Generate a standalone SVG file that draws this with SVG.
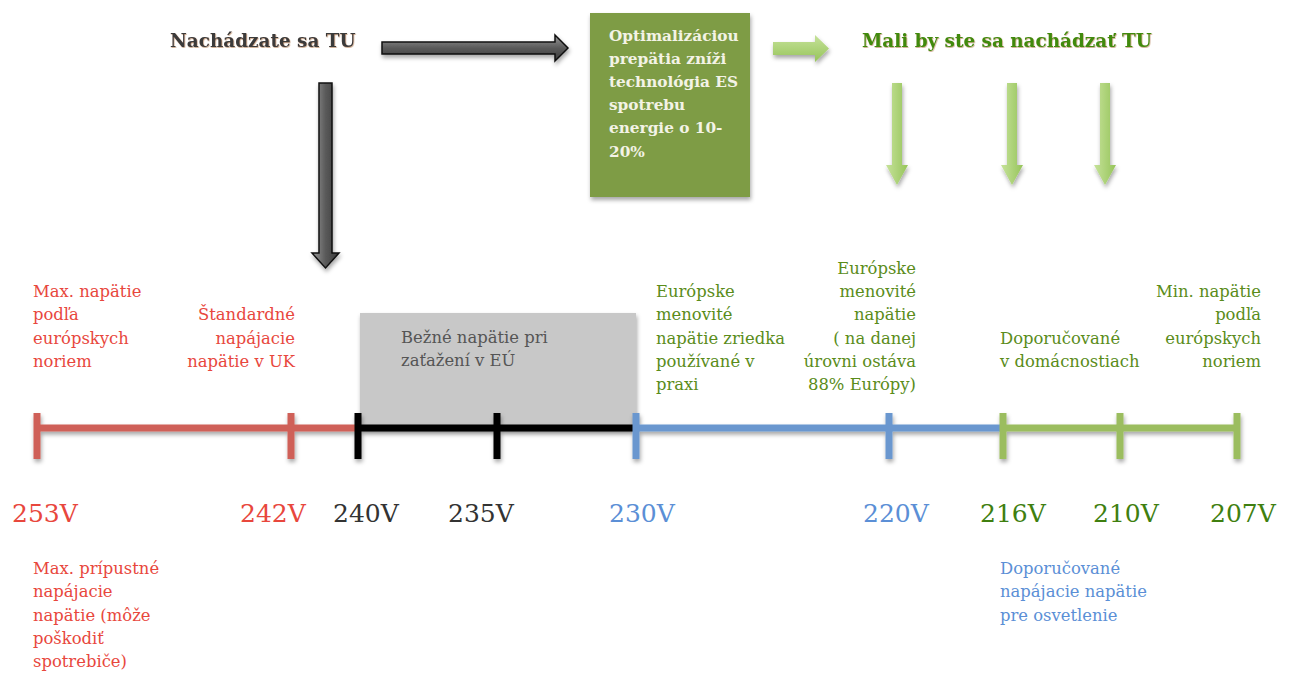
<svg xmlns="http://www.w3.org/2000/svg" width="1290" height="673" viewBox="0 0 1290 673">
<defs>
<filter id="sh" x="-20%" y="-20%" width="140%" height="160%">
<feDropShadow dx="1" dy="3" stdDeviation="2" flood-color="#000" flood-opacity="0.35"/>
</filter>
<filter id="tsh" x="-5%" y="-20%" width="110%" height="140%">
<feDropShadow dx="0.6" dy="0.8" stdDeviation="0.5" flood-color="#a0602a" flood-opacity="0.6"/>
</filter>
<linearGradient id="gh" x1="0" y1="0" x2="0" y2="1">
<stop offset="0" stop-color="#9a9a9a"/><stop offset="0.5" stop-color="#5a5a5a"/><stop offset="1" stop-color="#3a3a3a"/>
</linearGradient>
<linearGradient id="gv" x1="0" y1="0" x2="1" y2="0">
<stop offset="0" stop-color="#9a9a9a"/><stop offset="0.5" stop-color="#5a5a5a"/><stop offset="1" stop-color="#3a3a3a"/>
</linearGradient>
<linearGradient id="ggh" x1="0" y1="0" x2="0" y2="1">
<stop offset="0" stop-color="#c6e29a"/><stop offset="1" stop-color="#96c45a"/>
</linearGradient>
<linearGradient id="ggv" x1="0" y1="0" x2="1" y2="0">
<stop offset="0" stop-color="#c6e29a"/><stop offset="1" stop-color="#96c45a"/>
</linearGradient>
</defs>
<style>
text{font-family:"DejaVu Serif","Liberation Serif",serif}
.lbl{font-size:16.4px}
.red{fill:#e8473d}
.grn{fill:#5a8c1a}
.blu{fill:#5b8fd6}
.drk{fill:#555}
.volt{font-size:25px}
.title{font-size:18.4px;font-weight:bold}
.box{font-size:15.3px;font-weight:bold;fill:#f3f3e6}
.ln{stroke-width:7;fill:none}
</style>

<g id="title-here">
<text class="title" x="170" y="47" fill="#3a3a3a" filter="url(#tsh)">Nachádzate sa TU</text>
</g>
<g id="title-should">
<text class="title" x="862" y="47" fill="#3f8a10" filter="url(#tsh)">Mali by ste sa nachádzať TU</text>
</g>

<g id="opt-box">
<rect x="590" y="13" width="160" height="184" fill="#7e9c45" filter="url(#sh)"/>
<text class="box" x="609" y="41">Optimalizáciou</text>
<text class="box" x="609" y="64">prepätia zníži</text>
<text class="box" x="609" y="87">technológia ES</text>
<text class="box" x="609" y="110">spotrebu</text>
<text class="box" x="609" y="133">energie o 10-</text>
<text class="box" x="609" y="157">20%</text>
</g>

<g id="band-box">
<rect x="360" y="313" width="276" height="115" fill="#c8c8c8" filter="url(#sh)"/>
<text class="lbl drk" x="401" y="343">Bežné napätie pri</text>
<text class="lbl drk" x="401" y="366">zaťažení v EÚ</text>
</g>

<g id="connectors">
<path d="M382,42 H555 V35 L568,48 L555,61 V54 H382 Z" fill="url(#gh)" stroke="#111" stroke-width="1.5" filter="url(#sh)"/>
<path d="M319,83 H332 V253 H339 L325.5,268 L312,253 H319 Z" fill="url(#gv)" stroke="#111" stroke-width="1.5" filter="url(#sh)"/>
<path d="M773,42 H815 V35 L829,48.5 L815,62 V55 H773 Z" fill="url(#ggh)" filter="url(#sh)"/>
<path d="M892,83 H902 V165 H908 L897,185 L886,165 H892 Z" fill="url(#ggv)" filter="url(#sh)"/>
<path d="M1007,83 H1017 V165 H1023 L1012,185 L1001,165 H1007 Z" fill="url(#ggv)" filter="url(#sh)"/>
<path d="M1100,83 H1110 V165 H1116 L1105,185 L1094,165 H1100 Z" fill="url(#ggv)" filter="url(#sh)"/>
</g>

<g id="scale" filter="url(#sh)">
<path class="ln" d="M37,428 H358 M37,413 V459 M291,413 V459" stroke="#cf6159"/>
<path class="ln" d="M358,428 H636 M358,413 V459 M497,413 V459" stroke="#000"/>
<path class="ln" d="M636,428 H1003 M636,413 V459 M889,413 V459" stroke="#6a97cf"/>
<path class="ln" d="M1003,428 H1237 M1003,413 V459 M1120,413 V459 M1237,413 V459" stroke="#9bbd5e"/>
</g>

<g id="volts">
<text class="volt red" x="12" y="522">253V</text>
<text class="volt red" x="240" y="522">242V</text>
<text class="volt" x="333" y="522" fill="#333">240V</text>
<text class="volt" x="448" y="522" fill="#333">235V</text>
<text class="volt blu" x="609" y="522">230V</text>
<text class="volt blu" x="863" y="522">220V</text>
<text class="volt" x="980" y="522" fill="#3f7f10">216V</text>
<text class="volt" x="1093" y="522" fill="#3f7f10">210V</text>
<text class="volt" x="1210" y="522" fill="#3f7f10">207V</text>
</g>

<g id="lbl-max">
<text class="lbl red" x="33" y="297">Max. napätie</text>
<text class="lbl red" x="33" y="320">podľa</text>
<text class="lbl red" x="33" y="344">európskych</text>
<text class="lbl red" x="33" y="367">noriem</text>
</g>
<g id="lbl-uk" text-anchor="end">
<text class="lbl red" x="295" y="320">Štandardné</text>
<text class="lbl red" x="295" y="344">napájacie</text>
<text class="lbl red" x="295" y="367">napätie v UK</text>
</g>
<g id="lbl-230">
<text class="lbl grn" x="656" y="297">Európske</text>
<text class="lbl grn" x="656" y="320">menovité</text>
<text class="lbl grn" x="656" y="344">napätie zriedka</text>
<text class="lbl grn" x="656" y="367">používané v</text>
<text class="lbl grn" x="656" y="390">praxi</text>
</g>
<g id="lbl-220" text-anchor="end">
<text class="lbl grn" x="916" y="274">Európske</text>
<text class="lbl grn" x="916" y="297">menovité</text>
<text class="lbl grn" x="916" y="320">napätie</text>
<text class="lbl grn" x="916" y="344">( na danej</text>
<text class="lbl grn" x="916" y="367">úrovni ostáva</text>
<text class="lbl grn" x="916" y="390">88% Európy)</text>
</g>
<g id="lbl-home">
<text class="lbl grn" x="1000" y="344">Doporučované</text>
<text class="lbl grn" x="1000" y="367">v domácnostiach</text>
</g>
<g id="lbl-min" text-anchor="end">
<text class="lbl grn" x="1261" y="297">Min. napätie</text>
<text class="lbl grn" x="1261" y="320">podľa</text>
<text class="lbl grn" x="1261" y="344">európskych</text>
<text class="lbl grn" x="1261" y="367">noriem</text>
</g>
<g id="lbl-maxperm">
<text class="lbl red" x="33" y="574">Max. prípustné</text>
<text class="lbl red" x="33" y="597">napájacie</text>
<text class="lbl red" x="33" y="621">napätie (môže</text>
<text class="lbl red" x="33" y="644">poškodiť</text>
<text class="lbl red" x="33" y="667">spotrebiče)</text>
</g>
<g id="lbl-light">
<text class="lbl blu" x="1000" y="574">Doporučované</text>
<text class="lbl blu" x="1000" y="597">napájacie napätie</text>
<text class="lbl blu" x="1000" y="621">pre osvetlenie</text>
</g>
</svg>
